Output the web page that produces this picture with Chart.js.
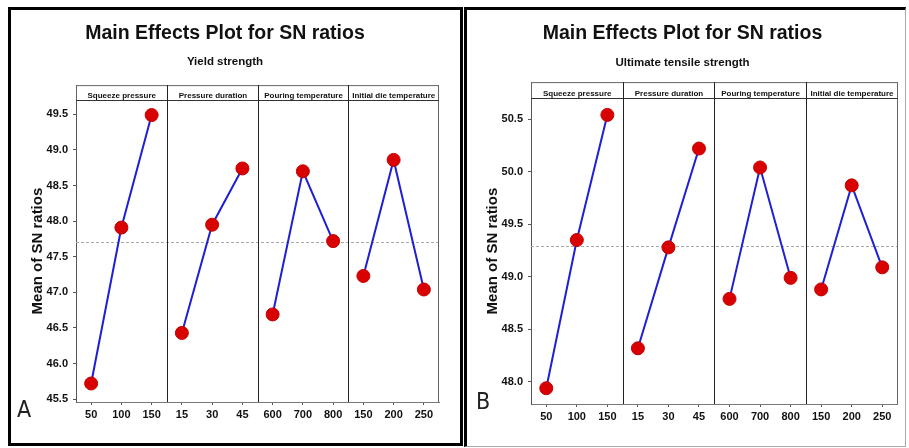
<!DOCTYPE html>
<html>
<head>
<meta charset="utf-8">
<script src="https://cdn.jsdelivr.net/npm/chart.js@4.4.1/dist/chart.umd.min.js"></script>
<style>
  html, body { margin: 0; padding: 0; background: #fff; width: 909px; height: 448px; overflow: hidden; }
  #frameA { position: absolute; left: 8px; top: 7px; width: 455px; height: 439px; border: 3px solid #000; box-sizing: border-box; }
  #frameB { position: absolute; left: 464px; top: 7px; width: 442px; height: 440px; box-sizing: border-box;
            border-left: 3px solid #000; border-top: 3px solid #000; border-right: 1px solid #aaa; border-bottom: 1px solid #aaa; }
  canvas { position: absolute; }
  #cA { left: 11px; top: 10px; }
  #cB { left: 467px; top: 10px; }
  .tag { position: absolute; font-family: 'Liberation Sans Narrow', 'DejaVu Sans Condensed', 'Liberation Sans', sans-serif;
         font-size: 23px; color: #222; line-height: 1; }
</style>
</head>
<body>
<div id="frameA"></div>
<div id="frameB"></div>
<canvas id="cA" width="449" height="433"></canvas>
<canvas id="cB" width="438" height="436"></canvas>
<div class="tag" style="left:17px; top:398px;">A</div>
<div class="tag" style="left:476px; top:390px;">B</div>
<script>
// ---- data ----
const xLabels = ["50", "100", "150", "15", "30", "45", "600", "700", "800", "150", "200", "250"];
const factors = ["Squeeze pressure", "Pressure duration", "Pouring temperature", "Initial die temperature"];

// Panel A: Yield strength
const ysSqueeze  = [45.72, 47.91, 49.49];
const ysDuration = [46.43, 47.95, 48.74];
const ysPouring  = [46.69, 48.70, 47.72];
const ysDie      = [47.23, 48.86, 47.04];
const ysMean = 47.71;
const yTicksA = [45.5, 46.0, 46.5, 47.0, 47.5, 48.0, 48.5, 49.0, 49.5];

// Panel B: Ultimate tensile strength
const utsSqueeze  = [47.94, 49.35, 50.54];
const utsDuration = [48.32, 49.28, 50.22];
const utsPouring  = [48.79, 50.04, 48.99];
const utsDie      = [48.88, 49.87, 49.09];
const utsMean = 49.29;
const yTicksB = [48.0, 48.5, 49.0, 49.5, 50.0, 50.5];

const mainTitle = "Main Effects Plot for SN ratios";
const yTitle = "Mean of SN ratios";

// ---- helpers ----
const FONT = "'Liberation Sans', Arial, sans-serif";

function factorDatasets(groups) {
  const n = xLabels.length;
  return groups.map((vals, gi) => {
    const data = new Array(n).fill(null);
    vals.forEach((v, k) => { data[gi * vals.length + k] = v; });
    return {
      data,
      borderColor: '#1f1fd6',
      borderWidth: 2,
      pointRadius: 6.5,
      pointHoverRadius: 6.5,
      pointBackgroundColor: '#d80000',
      pointBorderColor: '#c20000',
      pointBorderWidth: 1,
      spanGaps: false,
      tension: 0,
      clip: false
    };
  });
}

const panelPlugin = {
  id: 'panels',
  beforeDatasetsDraw(chart, args, opts) {
    const { ctx, chartArea: ca, scales: { x, y } } = chart;
    const hTop = ca.top - opts.headerHeight;
    ctx.save();
    // reference (grand mean) line
    const my = Math.round(y.getPixelForValue(opts.mean)) + 0.5;
    ctx.strokeStyle = '#a8a8a8';
    ctx.lineWidth = 1;
    ctx.setLineDash([3, 2]);
    ctx.beginPath(); ctx.moveTo(ca.left, my); ctx.lineTo(ca.right, my); ctx.stroke();
    ctx.setLineDash([]);
    // header strip + outer frame
    ctx.strokeStyle = '#666';
    ctx.beginPath();
    ctx.moveTo(ca.left, hTop + 0.5); ctx.lineTo(ca.right, hTop + 0.5);
    ctx.moveTo(Math.round(ca.right) - 0.5, hTop); ctx.lineTo(Math.round(ca.right) - 0.5, ca.bottom);
    ctx.moveTo(Math.round(ca.left) + 0.5, hTop); ctx.lineTo(Math.round(ca.left) + 0.5, ca.top);
    ctx.stroke();
    ctx.strokeStyle = '#333';
    ctx.beginPath();
    ctx.moveTo(ca.left, Math.round(ca.top) + 0.5); ctx.lineTo(ca.right, Math.round(ca.top) + 0.5);
    ctx.stroke();
    // panel dividers
    const n = opts.factors.length;
    const per = chart.data.labels.length / n;
    const bounds = [ca.left];
    ctx.strokeStyle = '#222';
    for (let i = 1; i < n; i++) {
      const b = Math.round((x.getPixelForValue(i * per - 1) + x.getPixelForValue(i * per)) / 2) + 0.5;
      bounds.push(b);
      ctx.beginPath(); ctx.moveTo(b, hTop); ctx.lineTo(b, ca.bottom); ctx.stroke();
    }
    bounds.push(ca.right);
    // factor names
    ctx.font = "bold 8px " + FONT;
    ctx.fillStyle = '#111';
    ctx.textAlign = 'center';
    ctx.textBaseline = 'alphabetic';
    opts.factors.forEach((f, i) => {
      const cx = (bounds[i] + bounds[i + 1]) / 2;
      ctx.fillText(f, cx, ca.top - 2, bounds[i + 1] - bounds[i] - 2);
    });
    ctx.restore();
  }
};

function makeChart(id, cfg) {
  return new Chart(document.getElementById(id), {
    type: 'line',
    data: { labels: xLabels, datasets: factorDatasets(cfg.groups) },
    plugins: [panelPlugin],
    options: {
      responsive: false,
      animation: false,
      events: [],
      layout: { padding: { left: 0, right: cfg.padRight, top: 0, bottom: cfg.padBottom } },
      plugins: {
        legend: { display: false },
        tooltip: { enabled: false },
        title: {
          display: true, text: mainTitle, color: '#111',
          font: { family: FONT, size: 19.5, weight: 'bold', lineHeight: 1.2 },
          padding: { top: 11.5, bottom: cfg.titleGap }
        },
        subtitle: {
          display: true, text: cfg.subtitle, color: '#111',
          font: { family: FONT, size: 11.5, weight: 'bold', lineHeight: 1.2 },
          padding: { top: 0, bottom: cfg.subGap }
        },
        panels: { factors, mean: cfg.mean, headerHeight: cfg.headerHeight }
      },
      scales: {
        x: {
          type: 'category',
          offset: true,
          afterFit: (s) => { s.height = 30; },
          grid: { display: true, drawOnChartArea: false, drawTicks: true, tickLength: 3, color: '#555', offset: false },
          border: { display: true, color: '#777', width: 1 },
          ticks: { color: '#111', padding: 3, maxRotation: 0, autoSkip: false,
                   font: { family: FONT, size: 11, weight: 'bold' } }
        },
        y: {
          type: 'linear',
          min: cfg.min, max: cfg.max,
          afterFit: (s) => { s.width = cfg.yWidth; },
          afterBuildTicks: (s) => { s.ticks = cfg.ticks.map(v => ({ value: v })); },
          grid: { display: true, drawOnChartArea: false, drawTicks: true, tickLength: 3, color: '#555' },
          border: { display: true, color: '#555', width: 1 },
          ticks: { color: '#111', padding: 5,
                   font: { family: FONT, size: 11, weight: 'bold' },
                   callback: (v) => Number(v).toFixed(1) },
          title: { display: true, text: yTitle, color: '#111',
                   font: { family: FONT, size: 15, weight: 'bold', lineHeight: 1.2 },
                   padding: { top: cfg.yTitlePad, bottom: 0 } }
        }
      }
    }
  });
}

makeChart('cA', {
  groups: [ysSqueeze, ysDuration, ysPouring, ysDie],
  subtitle: "Yield strength",
  mean: ysMean, ticks: yTicksA, min: 45.46, max: 49.70,
  padRight: 21, padBottom: 11, yWidth: 65, yTitlePad: 18,
  titleGap: 10.3, subGap: 31.1, headerHeight: 15
});

makeChart('cB', {
  groups: [utsSqueeze, utsDuration, utsPouring, utsDie],
  subtitle: "Ultimate tensile strength",
  mean: utsMean, ticks: yTicksB, min: 47.79, max: 50.70,
  padRight: 7, padBottom: 12, yWidth: 64, yTitlePad: 17,
  titleGap: 11.3, subGap: 28.1, headerHeight: 16
});
</script>
</body>
</html>
